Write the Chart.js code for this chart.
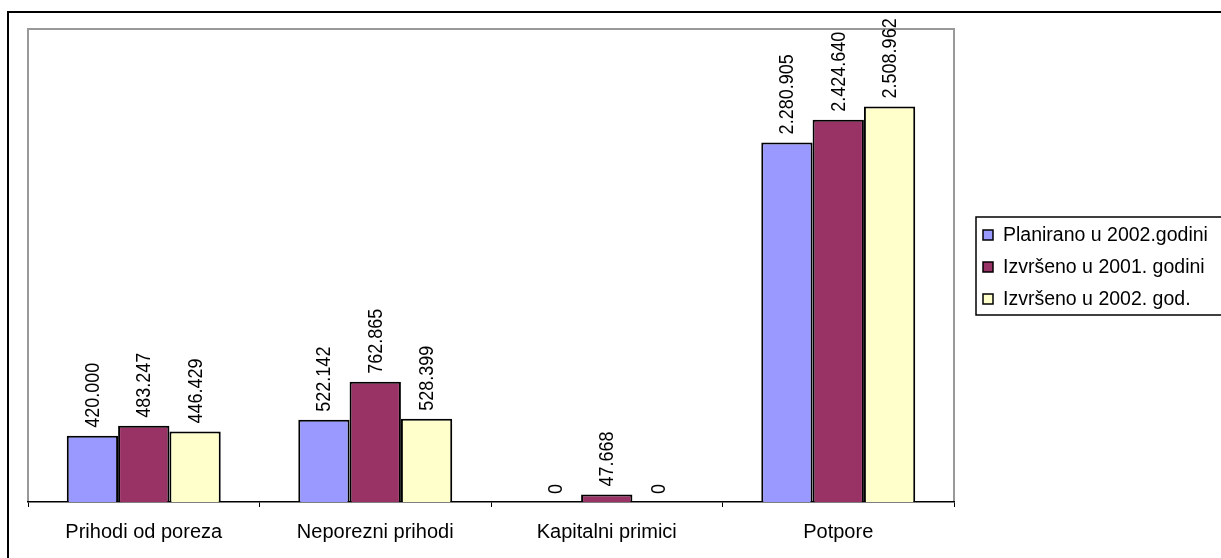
<!DOCTYPE html>
<html>
<head>
<meta charset="utf-8">
<script src="https://cdn.jsdelivr.net/npm/chart.js@4"></script>
<style>
  html, body { margin: 0; padding: 0; background: #fff; }
  #wrap { width: 1221px; height: 558px; position: relative; }
</style>
</head>
<body>
<div id="wrap"><canvas id="prihodiChart"></canvas></div>
<script>
const categories = ['Prihodi od poreza', 'Neporezni prihodi', 'Kapitalni primici', 'Potpore'];
const seriesNames = ['Planirano u 2002.godini', 'Izvršeno u 2001. godini', 'Izvršeno u 2002. god.'];
const planirano2002 = [420000, 522142, 0, 2280905];
const izvrseno2001 = [483247, 762865, 47668, 2424640];
const izvrseno2002 = [446429, 528399, 0, 2508962];
const seriesColors = ['#9999FF', '#993366', '#FFFFCC'];

const FONT = '"Liberation Sans", Arial, sans-serif';

function fmt(v) {
    // dots as thousands separator
    return String(v).replace(/\B(?=(\d{3})+(?!\d))/g, '.');
}

// frame, plot border, rotated value labels and legend box
const decorPlugin = {
    id: 'decor',
    beforeDraw(chart) {
        const ctx = chart.ctx;
        const a = chart.chartArea;
        ctx.save();
        ctx.fillStyle = '#fff';
        ctx.fillRect(0, 0, chart.width, chart.height);
        // outer black frame (left + top visible)
        ctx.strokeStyle = '#000';
        ctx.lineWidth = 2;
        ctx.beginPath();
        ctx.moveTo(8, chart.height);
        ctx.lineTo(8, 12);
        ctx.lineTo(chart.width, 12);
        ctx.stroke();
        // gray plot border
        ctx.strokeStyle = '#999';
        ctx.lineWidth = 2;
        ctx.beginPath();
        ctx.moveTo(a.left, a.bottom);
        ctx.lineTo(a.left, a.top);
        ctx.lineTo(a.right, a.top);
        ctx.lineTo(a.right, a.bottom);
        ctx.stroke();
        ctx.restore();
    },
    afterDatasetsDraw(chart) {
        const ctx = chart.ctx;
        ctx.save();
        ctx.font = '20px ' + FONT;
        ctx.fillStyle = '#000';
        ctx.textAlign = 'left';
        ctx.textBaseline = 'middle';
        chart.data.datasets.forEach(function (ds, i) {
            chart.getDatasetMeta(i).data.forEach(function (bar, j) {
                ctx.save();
                ctx.translate(bar.x + 1, bar.y - 8);
                ctx.rotate(-Math.PI / 2);
                ctx.scale(0.9, 1);
                ctx.fillText(fmt(ds.data[j]), 0, 0);
                ctx.restore();
            });
        });

        // legend
        const lx = 976, ly = 217;
        ctx.font = '19.5px ' + FONT;
        ctx.strokeStyle = '#000';
        ctx.lineWidth = 1.5;
        ctx.strokeRect(lx, ly, 260, 98);
        chart.data.datasets.forEach(function (ds, i) {
            const cy = ly + 18 + i * 32;
            ctx.fillStyle = ds.backgroundColor;
            ctx.fillRect(lx + 7, cy - 5, 10, 10);
            ctx.lineWidth = 1.5;
            ctx.strokeRect(lx + 7, cy - 5, 10, 10);
            ctx.fillStyle = '#000';
            ctx.fillText(ds.label, lx + 27, cy + 1);
        });
        ctx.restore();
    }
};

const ctx = document.getElementById('prihodiChart').getContext('2d');
new Chart(ctx, {
    type: 'bar',
    data: {
        labels: categories,
        datasets: [planirano2002, izvrseno2001, izvrseno2002].map(function (d, i) {
            return {
                label: seriesNames[i],
                data: d,
                backgroundColor: seriesColors[i],
                borderColor: '#000',
                borderWidth: 2,
                categoryPercentage: 0.665,
                barPercentage: 1.0
            };
        })
    },
    options: {
        responsive: true,
        maintainAspectRatio: false,
        animation: false,
        layout: { padding: { left: 28, right: 267, top: 29, bottom: 0 } },
        scales: {
            y: {
                display: false,
                min: 0,
                max: 3000000
            },
            x: {
                afterFit: function (scale) { scale.height = 56; },
                grid: {
                    display: true,
                    drawOnChartArea: false,
                    drawTicks: true,
                    tickLength: 5,
                    color: '#000',
                    offset: true
                },
                border: { display: true, color: '#000', width: 1.5 },
                ticks: {
                    color: '#000',
                    padding: 13,
                    font: { family: FONT, size: 20 }
                }
            }
        },
        plugins: {
            legend: { display: false },
            tooltip: { enabled: false }
        }
    },
    plugins: [decorPlugin]
});
</script>
</body>
</html>
